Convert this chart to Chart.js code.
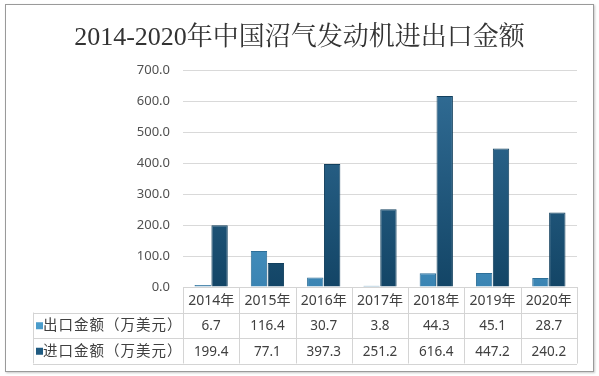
<!DOCTYPE html>
<html>
<head>
<meta charset="utf-8">
<script src="https://cdn.jsdelivr.net/npm/chart.js@4.4.0/dist/chart.umd.min.js"></script>
<style>
  body { margin: 0; background: #fff; }
  #wrap { position: relative; width: 599px; height: 376px; }
  #frame { position: absolute; left: 5px; top: 4px; width: 587px; height: 366px;
           border: 1px solid #9a9a9a; box-shadow: 1px 1px 2px #c8c8c8; pointer-events: none; }
  canvas { position: absolute; left: 0; top: 0; }
</style>
</head>
<body>
<div id="wrap">
  <canvas id="chart" width="599" height="376"></canvas>
  <div id="frame"></div>
</div>
<script>
// 数据
const years = ['2014年', '2015年', '2016年', '2017年', '2018年', '2019年', '2020年'];
const exportVals = [6.7, 116.4, 30.7, 3.8, 44.3, 45.1, 28.7];
const importVals = [199.4, 77.1, 397.3, 251.2, 616.4, 447.2, 240.2];
const seriesNames = ['出口金额（万美元）', '进口金额（万美元）'];
const titleText = '2014-2020年中国沼气发动机进出口金额';

const cjk = '"Noto Sans", "Noto Sans CJK SC", sans-serif';

function barGradient(top, bottom) {
    return function (ctx) {
        const area = ctx.chart.chartArea;
        if (!area) return bottom;
        const g = ctx.chart.ctx.createLinearGradient(0, area.top, 0, area.bottom);
        g.addColorStop(0, top);
        g.addColorStop(1, bottom);
        return g;
    };
}

// 数据表 plugin
const dataTable = {
    id: 'dataTable',
    afterDraw(chart) {
        const c = chart.ctx;
        const area = chart.chartArea;
        const x = chart.scales.x;
        const n = years.length;
        const colW = (area.right - area.left) / n;
        const rowH = 25.5;
        const y0 = area.bottom;
        const labelLeft = 33;
        c.save();
        c.strokeStyle = '#d4d4d4';
        c.lineWidth = 1;
        // horizontal lines
        c.beginPath();
        c.moveTo(area.left, y0 + 0.5); c.lineTo(area.right, y0 + 0.5);
        for (let r = 1; r <= 3; r++) {
            const yy = Math.round(y0 + r * rowH) + 0.5;
            c.moveTo(labelLeft, yy); c.lineTo(area.right, yy);
        }
        // vertical lines
        for (let i = 0; i <= n; i++) {
            const xx = Math.round(area.left + i * colW) + 0.5;
            c.moveTo(xx, y0); c.lineTo(xx, y0 + 3 * rowH);
        }
        c.moveTo(labelLeft + 0.5, y0 + rowH); c.lineTo(labelLeft + 0.5, y0 + 3 * rowH);
        c.stroke();

        c.fillStyle = '#404040';
        c.textBaseline = 'middle';
        c.textAlign = 'center';
        years.forEach((yr, i) => {
            const cx = x.getPixelForValue(i);
            c.font = '14px ' + cjk;
            c.fillText(yr, cx, y0 + rowH / 2 + 1);
            c.font = '13.5px ' + cjk;
            c.fillText(exportVals[i].toFixed(1), cx, y0 + rowH * 1.5 + 1);
            c.fillText(importVals[i].toFixed(1), cx, y0 + rowH * 2.5 + 1);
        });
        // legend keys
        const keyCols = ['#4a9ccb', '#1f5a80'];
        c.textAlign = 'left';
        c.font = '14.5px ' + cjk;
        c.letterSpacing = '1px';
        seriesNames.forEach((name, r) => {
            const cy = y0 + rowH * (r + 1.5) + 1;
            c.fillStyle = keyCols[r];
            c.fillRect(36, cy - 4, 7, 7);
            c.fillStyle = '#404040';
            c.fillText(name, 43, cy);
        });
        c.restore();
    }
};

const chart = new Chart(document.getElementById('chart').getContext('2d'), {
    type: 'bar',
    data: {
        labels: years,
        datasets: [{
            label: seriesNames[0],
            data: exportVals,
            backgroundColor: barGradient('#5eaed8', '#3a84b3'),
            borderColor: '#2d6f98',
            borderWidth: 1
        }, {
            label: seriesNames[1],
            data: importVals,
            backgroundColor: barGradient('#336f98', '#134566'),
            borderColor: '#12405e',
            borderWidth: 1
        }]
    },
    options: {
        responsive: false,
        animation: false,
        devicePixelRatio: 1,
        layout: { padding: { left: 22, right: 22, top: 14, bottom: 89 } },
        datasets: { bar: { categoryPercentage: 0.6, barPercentage: 0.97 } },
        plugins: {
            legend: { display: false },
            tooltip: { enabled: false },
            title: {
                display: true,
                text: titleText,
                color: '#333333',
                font: { family: '"Liberation Serif", "Noto Serif CJK SC", "Noto Sans CJK SC", serif', size: 26, weight: 'normal' },
                padding: { top: 9, bottom: 16 }
            }
        },
        scales: {
            x: { display: false },
            y: {
                min: 0,
                max: 700,
                afterFit(scale) { scale.width = 161; },
                border: { display: false },
                grid: { color: '#d9d9d9', drawTicks: false },
                ticks: {
                    stepSize: 100,
                    padding: 13,
                    color: '#505050',
                    font: { family: cjk, size: 13 },
                    callback: v => v.toFixed(1)
                }
            }
        }
    },
    plugins: [dataTable]
});
</script>
</body>
</html>
